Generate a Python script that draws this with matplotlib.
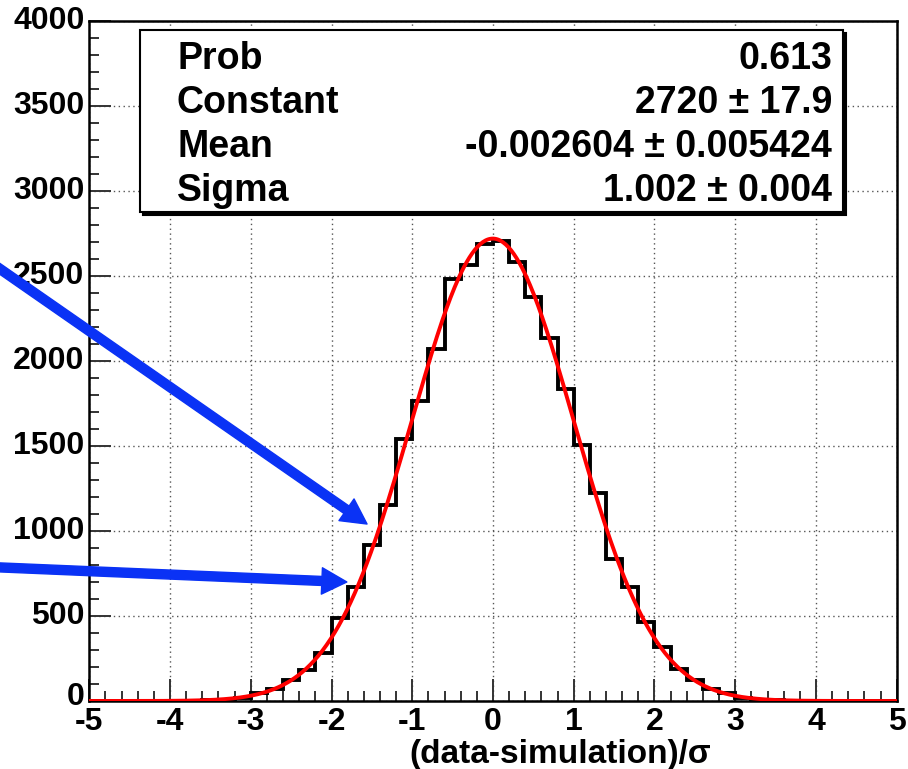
import matplotlib.pyplot as plt
import numpy as np
from matplotlib.patches import Rectangle
from matplotlib.ticker import MultipleLocator

plt.rcParams['font.family'] = ['Liberation Sans', 'DejaVu Sans']
plt.rcParams['font.weight'] = 'bold'

# histogram of (data-simulation)/sigma, 50 bins from -5 to 5
bin_edges = np.linspace(-5, 5, 51)
counts = [0, 0, 0, 0, 0, 1, 2, 4, 8, 16,
          50, 72, 125, 185, 280, 490, 669, 918, 1153, 1539,
          1765, 2073, 2482, 2565, 2690, 2704, 2584, 2374, 2137, 1837,
          1506, 1225, 834, 670, 467, 315, 190, 122, 72, 45,
          16, 8, 4, 2, 1, 0, 0, 0, 0, 0]

# gaussian fit results (stat box)
fit_const = 2720
fit_mean = -0.002604
fit_sigma = 1.002
stat_names = ["Prob", "Constant", "Mean", "Sigma"]
stat_values = ["0.613", "2720 ± 17.9", "-0.002604 ± 0.005424", "1.002 ± 0.004"]

W, H = 908, 769
fig = plt.figure(figsize=(W / 100, H / 100), dpi=100)
ax = fig.add_axes([89.3 / W, 1 - 701 / H, (896.7 - 89.3) / W, (701 - 21) / H])


def fpix(x, y):
    return x / W, 1 - y / H


ax.stairs(counts, bin_edges, color='black', lw=2.8, zorder=3)
xf = np.linspace(-5, 5, 600)
ax.plot(xf, fit_const * np.exp(-0.5 * ((xf - fit_mean) / fit_sigma) ** 2),
        color='red', lw=2.8, zorder=4)

ax.set_xlim(-5, 5)
ax.set_ylim(0, 4000)
ax.xaxis.set_major_locator(MultipleLocator(1))
ax.xaxis.set_minor_locator(MultipleLocator(0.2))
ax.yaxis.set_major_locator(MultipleLocator(500))
ax.yaxis.set_minor_locator(MultipleLocator(100))
ax.tick_params(which='both', direction='in', top=False, right=False, width=1.4, color='#333333')
ax.tick_params(which='major', length=16)
ax.tick_params(which='minor', length=7.5)
ax.set_xticklabels([])
ax.set_yticklabels([])
for v in range(-5, 6):
    ax.text(v, -36, str(v), ha='center', va='top', fontsize=23, fontweight='bold')
for v in range(0, 4001, 500):
    yy = v + 25 if v == 0 else v
    ax.text(-5.06, yy, str(v), ha='right', va='center', fontsize=23, fontweight='bold')

ax.grid(True, which='major', color='#555555', lw=1.0, linestyle=(0, (1, 2.5)))
for s in ax.spines.values():
    s.set_linewidth(1.8)

fig.text(*fpix(560, 754), "(data-simulation)/σ", ha='center', va='center',
         fontsize=24, fontweight='bold')

# stat box with ROOT-like shadow
x0, y0 = fpix(140, 212)
x1, y1 = fpix(843, 30)
fig.patches.append(Rectangle((x0 + 3 / W, y0 - 3 / H), x1 - x0, y1 - y0, transform=fig.transFigure,
                             facecolor='black', edgecolor='black', lw=1.5, zorder=5))
fig.patches.append(Rectangle((x0, y0), x1 - x0, y1 - y0, transform=fig.transFigure,
                             facecolor='white', edgecolor='black', lw=1.5, zorder=6))
for i, (name, val) in enumerate(zip(stat_names, stat_values)):
    yy = 59 + i * 44
    fig.text(*fpix(177, yy), name, ha='left', va='center', fontsize=27, fontweight='bold', zorder=7)
    fig.text(*fpix(832, yy), val, ha='right', va='center', fontsize=27, fontweight='bold', zorder=7)

# blue arrows
arrow_style = 'simple,head_length=1.8,head_width=1.9,tail_width=0.65'
ax.annotate('', xy=(-1.56, 1041), xycoords='data',
            xytext=fpix(-10, 262), textcoords='figure fraction',
            arrowprops=dict(arrowstyle=arrow_style, color='#0a32f5', mutation_scale=10,
                            shrinkA=0, shrinkB=0), annotation_clip=False, zorder=8)
ax.annotate('', xy=(-1.81, 700), xycoords='data',
            xytext=fpix(-10, 567), textcoords='figure fraction',
            arrowprops=dict(arrowstyle=arrow_style, color='#0a32f5', mutation_scale=10,
                            shrinkA=0, shrinkB=0), annotation_clip=False, zorder=8)

fig.savefig('out.png', dpi=100)
